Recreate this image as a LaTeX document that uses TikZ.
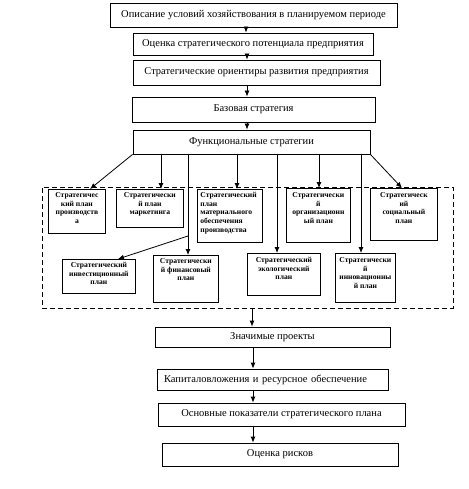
\documentclass[tikz,border=0pt]{standalone}
\usepackage{fontspec}
\setmainfont{Liberation Serif}
\usetikzlibrary{arrows.meta}

\begin{document}
\begin{tikzpicture}[
        x=1pt, y=-1pt,
        stage/.style={draw, line width=0.8pt, inner sep=0pt, font=\fontsize{10.5}{12}\selectfont},
        plan/.style={draw, line width=0.8pt, inner sep=0pt, anchor=north west, align=center, font=\fontsize{7.6}{8.6}\selectfont\bfseries},
        frame/.style={draw, line width=0.8pt, dash pattern=on 5pt off 3pt, inner sep=0pt},
        arr/.style={line width=0.8pt, -{Latex[length=6pt,width=5pt]}},
    ]
    \useasboundingbox (0,0) rectangle (468,489);

    % Upper chain of stages
    \node[stage, minimum width=287pt, minimum height=24pt] (survey) at (253.5,15) {Описание условий хозяйствования в планируемом периоде};
    \node[stage, minimum width=240pt, minimum height=22pt] (potential) at (253,44) {Оценка стратегического потенциала предприятия};
    \node[stage, minimum width=247pt, minimum height=25pt] (goals) at (256.5,72.5) {Стратегические ориентиры развития предприятия};
    \node[stage, minimum width=243pt, minimum height=25pt] (base) at (253.5,109.5) {Базовая стратегия};
    \node[stage, minimum width=237pt, minimum height=24pt] (func) at (251.5,142) {Функциональные стратегии};

    \draw[arr] (survey.south -| 246,0) -- (potential.north -| 246,0);
    \draw[arr] (potential.south -| 247,0) -- (goals.north -| 247,0);
    \draw[arr] (goals.south -| 247,0) -- (base.north -| 247,0);
    \draw[arr] (base.south -| 247,0) -- (func.north -| 247,0);

    % Dashed frame with the functional plans
    \node[frame, minimum width=411pt, minimum height=121pt] (plans) at (247.5,247.5) {};

    \node[plan] (prod) at (48,189) {\parbox[b][44pt][t]{57pt}{\centering\vspace{3pt}Стратегичес\\кий план\\производств\\а}};
    \node[plan] (market) at (116,189) {\parbox[b][38pt][t]{67pt}{\centering\vspace{3pt}Стратегически\\й план\\маркетинга}};
    \node[plan] (supply) at (197,189) {\parbox[b][53pt][t]{65pt}{\raggedright\leftskip=3pt\vspace{3pt}Стратегический\\план\\материального\\обеспечения\\производства}};
    \node[plan] (org) at (286,188) {\parbox[b][54pt][t]{64pt}{\centering\vspace{4pt}Стратегически\\й\\организационн\\ый план}};
    \node[plan] (social) at (370,188) {\parbox[b][52pt][t]{67pt}{\centering\vspace{4pt}Стратегическ\\ий\\социальный\\план}};

    \node[plan] (invplan) at (62,259) {\parbox[b][34pt][t]{73pt}{\centering\vspace{3pt}Стратегический\\инвестиционный\\план}};
    \node[plan] (fin) at (153,255) {\parbox[b][47pt][t]{65pt}{\centering\vspace{3pt}Стратегически\\й финансовый\\план}};
    \node[plan] (eco) at (247,253) {\parbox[b][42pt][t]{73pt}{\centering\vspace{4pt}Стратегический\\экологический\\план}};
    \node[plan] (innov) at (335,253) {\parbox[b][49pt][t]{60pt}{\centering\vspace{4pt}Стратегически\\й\\инновационны\\й план}};

    % Links from the functional strategies
    \coordinate (fork) at (188,236);
    \draw[arr] (func.south west) -- (prod.north -| 90,0);
    \draw[arr] (func.south -| 161,0) -- (market.north -| 161,0);
    \draw[arr] (func.south -| 188,0) -- (fin.north -| 188,0);
    \draw[arr] (fork) -- (invplan.north -| 118,0);
    \draw[arr] (func.south -| 237,0) -- (supply.north -| 237,0);
    \draw[arr] (func.south -| 277,0) -- (eco.north -| 277,0);
    \draw[arr] (func.south -| 319,0) -- (org.north -| 319,0);
    \draw[arr] (func.south -| 361,0) -- (innov.north -| 361,0);
    \draw[arr] (func.south east) -- (social.north -| 402,0);

    % Lower chain of stages
    \node[stage, minimum width=235pt, minimum height=20pt] (projects) at (272.5,337) {Значимые проекты};
    \node[stage, minimum width=231pt, minimum height=21pt, inner xsep=7pt, text width=217pt, align=left] (capital) at (272.5,379.5) {Капиталовложения и ресурсное обеспечение};
    \node[stage, minimum width=247pt, minimum height=23pt] (indicators) at (281.5,414.5) {Основные показатели стратегического плана};
    \node[stage, minimum width=236pt, minimum height=23pt] (risks) at (280,454.5) {Оценка рисков};

    \draw[arr] (plans.south -| 252,0) -- (projects.north -| 252,0);
    \draw[arr] (projects.south -| 253,0) -- (capital.north -| 253,0);
    \draw[arr] (capital.south -| 253,0) -- (indicators.north -| 253,0);
    \draw[arr] (indicators.south -| 253,0) -- (risks.north -| 253,0);
\end{tikzpicture}
\end{document}
